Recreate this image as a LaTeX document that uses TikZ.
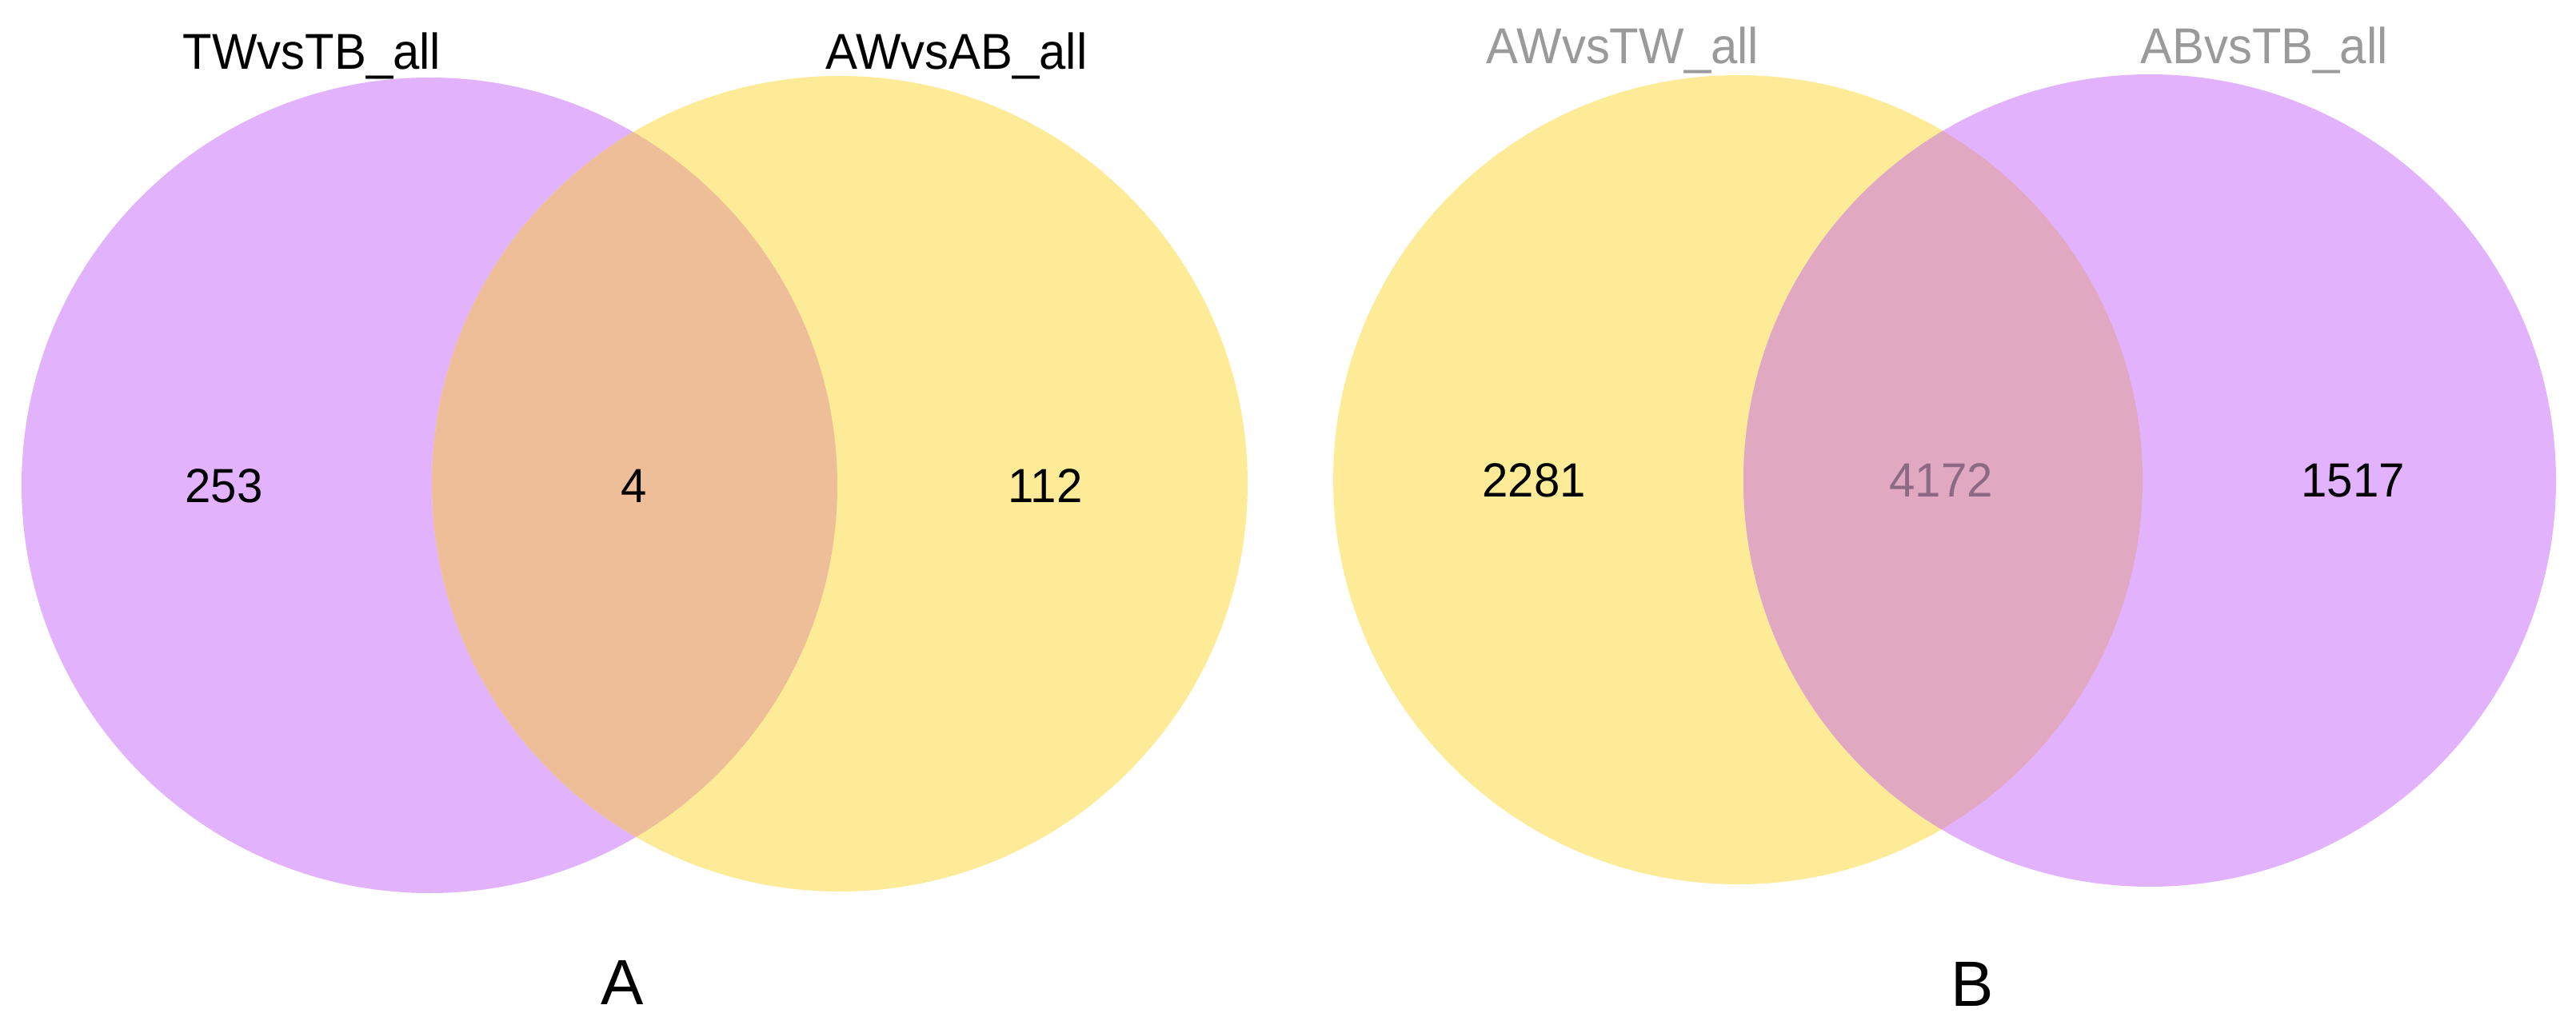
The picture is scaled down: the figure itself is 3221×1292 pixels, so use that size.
\documentclass[tikz,border=0pt]{standalone}
\usepackage{fontspec}
\setmainfont{Liberation Sans}
\definecolor{vpurple}{HTML}{E2B3FC}
\definecolor{vyellow}{HTML}{FEEB97}
\definecolor{ovA}{HTML}{EDBE97}
\definecolor{ovB}{HTML}{E1A8C1}
\definecolor{lblgray}{HTML}{9A9A9A}
\definecolor{numgray}{HTML}{8C6A84}
\begin{document}
\begin{tikzpicture}[x=1pt,y=-1pt,
  setlabel/.style={font=\fontsize{63}{70}\selectfont, xscale=0.95, inner sep=0pt},
  count/.style={font=\fontsize{60}{66}\selectfont, xscale=0.97, inner sep=0pt},
  panel/.style={font=\fontsize{80}{88}\selectfont, inner sep=0pt}]
\useasboundingbox[fill=white] (0,0) rectangle (3221,1292);
% Panel A
\fill[vpurple] (537,607) circle[radius=510];
\fill[vyellow] (1050,605) circle[radius=510];
\begin{scope}
  \clip (537,607) circle[radius=510];
  \fill[ovA] (1050,605) circle[radius=510];
\end{scope}
% Panel B
\fill[vyellow] (2173,600) circle[radius=506];
\fill[vpurple] (2688,601) circle[radius=508];
\begin{scope}
  \clip (2173,600) circle[radius=506];
  \fill[ovB] (2688,601) circle[radius=508];
\end{scope}
% set labels
\node[setlabel] (tA1) at (390,70) {TWvsTB\_all};
\node[setlabel] (tA2) at (1196,70) {AWvsAB\_all};
\node[setlabel, text=lblgray] (tB1) at (2029,63) {AWvsTW\_all};
\node[setlabel, text=lblgray] (tB2) at (2831,63) {ABvsTB\_all};
% counts
\node[count] (nA1) at (280,608) {253};
\node[count] (nA2) at (793,608) {4};
\node[count] (nA3) at (1307,608) {112};
\node[count] (nB1) at (1918,601) {2281};
\node[count, text=numgray] (nB2) at (2427,601) {4172};
\node[count] (nB3) at (2942,601) {1517};
% panel letters
\node[panel] (pA) at (778,1229) {A};
\node[panel] (pB) at (2466,1231) {B};
\end{tikzpicture}
\end{document}
